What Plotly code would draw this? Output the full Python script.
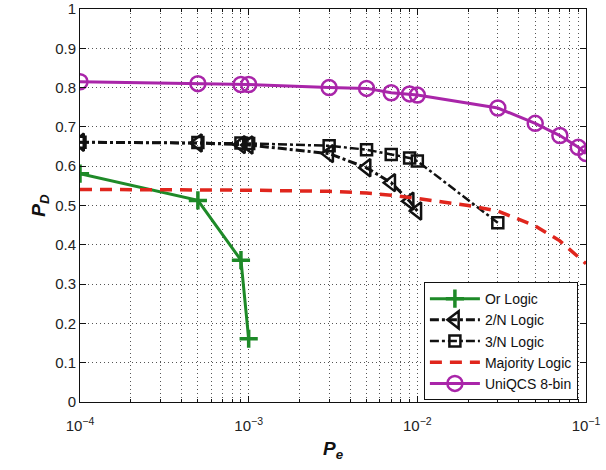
import plotly.graph_objects as go

# ---- data ----
or_pe = [1e-4, 5e-4, 9e-4, 1e-3]
or_pd = [0.581, 0.513, 0.361, 0.161]

n2_pe = [1e-4, 5e-4, 9e-4, 1e-3, 3e-3, 5e-3, 7e-3, 9e-3, 1e-2]
n2_pd = [0.661, 0.659, 0.655, 0.654, 0.632, 0.596, 0.558, 0.511, 0.486]

n3_pe = [1e-4, 5e-4, 9e-4, 1e-3, 3e-3, 5e-3, 7e-3, 9e-3, 1e-2, 3e-2]
n3_pd = [0.661, 0.660, 0.659, 0.658, 0.652, 0.642, 0.630, 0.621, 0.613, 0.456]

maj_pe = [1e-4, 5e-4, 1e-3, 3e-3, 5e-3, 7e-3, 1e-2, 2e-2, 3e-2, 5e-2, 7e-2, 1e-1]
maj_pd = [0.541, 0.540, 0.539, 0.536, 0.532, 0.526, 0.518, 0.500, 0.486, 0.448, 0.410, 0.352]

uq_pe = [1e-4, 5e-4, 9e-4, 1e-3, 3e-3, 5e-3, 7e-3, 9e-3, 1e-2, 3e-2, 5e-2, 7e-2, 9e-2, 1e-1]
uq_pd = [0.815, 0.810, 0.808, 0.808, 0.800, 0.798, 0.787, 0.784, 0.781, 0.748, 0.709, 0.678, 0.648, 0.632]

x_tickvals = [1e-4, 1e-3, 1e-2, 1e-1]
x_ticktext = ["10<sup>\u22124</sup>", "10<sup>\u22123</sup>", "10<sup>\u22122</sup>", "10<sup>\u22121</sup>"]
y_tickvals = [0, 0.1, 0.2, 0.3, 0.4, 0.5, 0.6, 0.7, 0.8, 0.9, 1]
y_ticktext = ["0", "0.1", "0.2", "0.3", "0.4", "0.5", "0.6", "0.7", "0.8", "0.9", "1"]

minor_vals = [m * 10.0 ** e for e in (-4, -3, -2) for m in range(2, 10)]

FONT = "Liberation Sans, Arial, Helvetica, sans-serif"

fig = go.Figure()
fig.add_trace(go.Scatter(
    x=or_pe, y=or_pd, name="Or Logic", mode="lines+markers",
    line=dict(color="#1e8a28", width=3),
    marker=dict(symbol="cross-thin-open", size=13, line=dict(color="#1e8a28", width=3.5)),
))
fig.add_trace(go.Scatter(
    x=n2_pe, y=n2_pd, name="2/N Logic", mode="lines+markers",
    line=dict(color="#111111", width=3, dash="dashdot"),
    marker=dict(symbol="triangle-left-open", size=15, line=dict(color="#111111", width=2.5)),
))
fig.add_trace(go.Scatter(
    x=n3_pe, y=n3_pd, name="3/N Logic", mode="lines+markers",
    line=dict(color="#111111", width=2.5, dash="dashdot"),
    marker=dict(symbol="square-open", size=11, line=dict(color="#111111", width=2.5)),
))
fig.add_trace(go.Scatter(
    x=maj_pe, y=maj_pd, name="Majority Logic", mode="lines",
    line=dict(color="#e0261d", width=3.5, dash="12px,8px"),
))
fig.add_trace(go.Scatter(
    x=uq_pe, y=uq_pd, name="UniQCS 8-bin", mode="lines+markers",
    line=dict(color="#a925a9", width=3),
    marker=dict(symbol="circle-open", size=15, line=dict(color="#a925a9", width=2.5)),
))

grid_common = dict(showgrid=True, gridcolor="#555555", gridwidth=1, griddash="1px,3px")

fig.update_layout(
    width=606, height=470,
    margin=dict(l=80, r=20, t=9, b=68, autoexpand=False),
    paper_bgcolor="white", plot_bgcolor="white",
    font=dict(family=FONT, size=14, color="#222222"),
    showlegend=True,
    legend=dict(
        x=0.984, y=0.005, xanchor="right", yanchor="bottom",
        bordercolor="#111111", borderwidth=1, bgcolor="white",
        font=dict(family=FONT, size=14, color="#111111"),
        tracegroupgap=0, itemwidth=50,
    ),
    xaxis=dict(
        type="log", range=[-4, -1], automargin=False,
        tickmode="array", tickvals=x_tickvals, ticktext=x_ticktext,
        ticks="inside", ticklen=6, tickcolor="#111111",
        ticklabelstandoff=10, ticklabeloverflow="allow",
        showline=True, linecolor="#111111", linewidth=1, mirror="ticks",
        tickfont=dict(family=FONT, size=15, color="#222222"),
        minor=dict(tickvals=minor_vals, ticks="inside", ticklen=3, tickcolor="#111111",
                   showgrid=True, gridcolor="#555555", gridwidth=1, griddash="1px,3px"),
        title=dict(text="<b><i>P</i></b><sub><b><i>e</i></b></sub>",
                   font=dict(family=FONT, size=19, color="#111111"), standoff=8),
        zeroline=False,
        **grid_common,
    ),
    yaxis=dict(
        range=[0, 1], automargin=False,
        tickmode="array", tickvals=y_tickvals, ticktext=y_ticktext,
        ticks="inside", ticklen=6, tickcolor="#111111",
        ticklabeloverflow="allow",
        showline=True, linecolor="#111111", linewidth=1, mirror="ticks",
        tickfont=dict(family=FONT, size=15, color="#222222"),
        title=dict(text="<b><i>P</i></b><sub><b><i>D</i></b></sub>",
                   font=dict(family=FONT, size=19, color="#111111"), standoff=4),
        zeroline=False,
        **grid_common,
    ),
)

fig.write_html("out.html")
